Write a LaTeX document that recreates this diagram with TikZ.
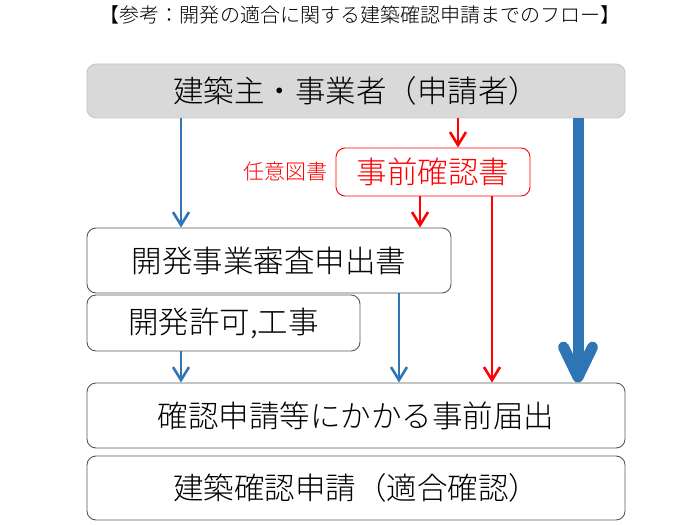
\documentclass[tikz,border=0pt]{standalone}
\usepackage{fontspec}
\setmainfont{Noto Sans CJK JP}[UprightFont={* Light}]
\usetikzlibrary{arrows.meta}
\definecolor{ablue}{HTML}{2E75B6}
\definecolor{ared}{HTML}{FF0000}
\definecolor{agray}{HTML}{D9D9D9}
\definecolor{boxline}{HTML}{595959}
\begin{document}
\begin{tikzpicture}[x=1bp,y=-1bp,
  box/.style={draw=boxline, line width=0.9bp, rounded corners=9bp, inner sep=0pt},
  bigtext/.style={font=\fontsize{30.5bp}{36bp}\selectfont},
  bl/.style={draw=ablue, line width=2.6bp, -{Straight Barb[length=13bp,width=16bp]}},
  rd/.style={draw=ared, line width=2.6bp, -{Straight Barb[length=13bp,width=16bp]}},
  bigbl/.style={draw=ablue, line width=11bp, -{Straight Barb[length=30bp,width=29bp,round]}}]
\useasboundingbox (0,0) rectangle (700,525);
\node[font=\fontsize{20bp}{24bp}\selectfont] (title) at (360,15) {【参考：開発の適合に関する建築確認申請までのフロー】};
\node[box, fill=agray, draw=gray!45, minimum width=538bp, minimum height=54bp, bigtext] (owner) at (356,91) {建築主・事業者（申請者）};
\node[box, draw=ared, text=ared, minimum width=194bp, minimum height=48bp, bigtext] (pre) at (433,172) {事前確認書};
\node[text=ared, font=\fontsize{21bp}{25bp}\selectfont] (opt) at (285,172) {任意図書};
\node[box, minimum width=364bp, minimum height=65bp, bigtext] (dev) at (269,260.5) {開発事業審査申出書};
\node[box, minimum width=273bp, minimum height=56bp, bigtext] (permit) at (223.5,323) {開発許可,工事};
\node[box, minimum width=538bp, minimum height=65bp, bigtext] (notif) at (356,415.5) {確認申請等にかかる事前届出};
\node[box, minimum width=538bp, minimum height=64bp, bigtext] (final) at (356,488) {建築確認申請（適合確認）};
\coordinate (cA) at (181,0);
\coordinate (cB) at (399,0);
\coordinate (cC) at (458,0);
\coordinate (cD) at (420,0);
\coordinate (cE) at (492,0);
\coordinate (cF) at (578,0);
\draw[bl] (owner.south -| cA) -- (dev.north -| cA);
\draw[bl] (permit.south -| cA) -- (notif.north -| cA);
\draw[bl] (dev.south -| cB) -- (notif.north -| cB);
\draw[rd] (owner.south -| cC) -- (pre.north -| cC);
\draw[rd] (pre.south -| cD) -- (dev.north -| cD);
\draw[rd] (pre.south -| cE) -- (notif.north -| cE);
\draw[bigbl] (owner.south -| cF) -- (notif.north -| cF);
\end{tikzpicture}
\end{document}
